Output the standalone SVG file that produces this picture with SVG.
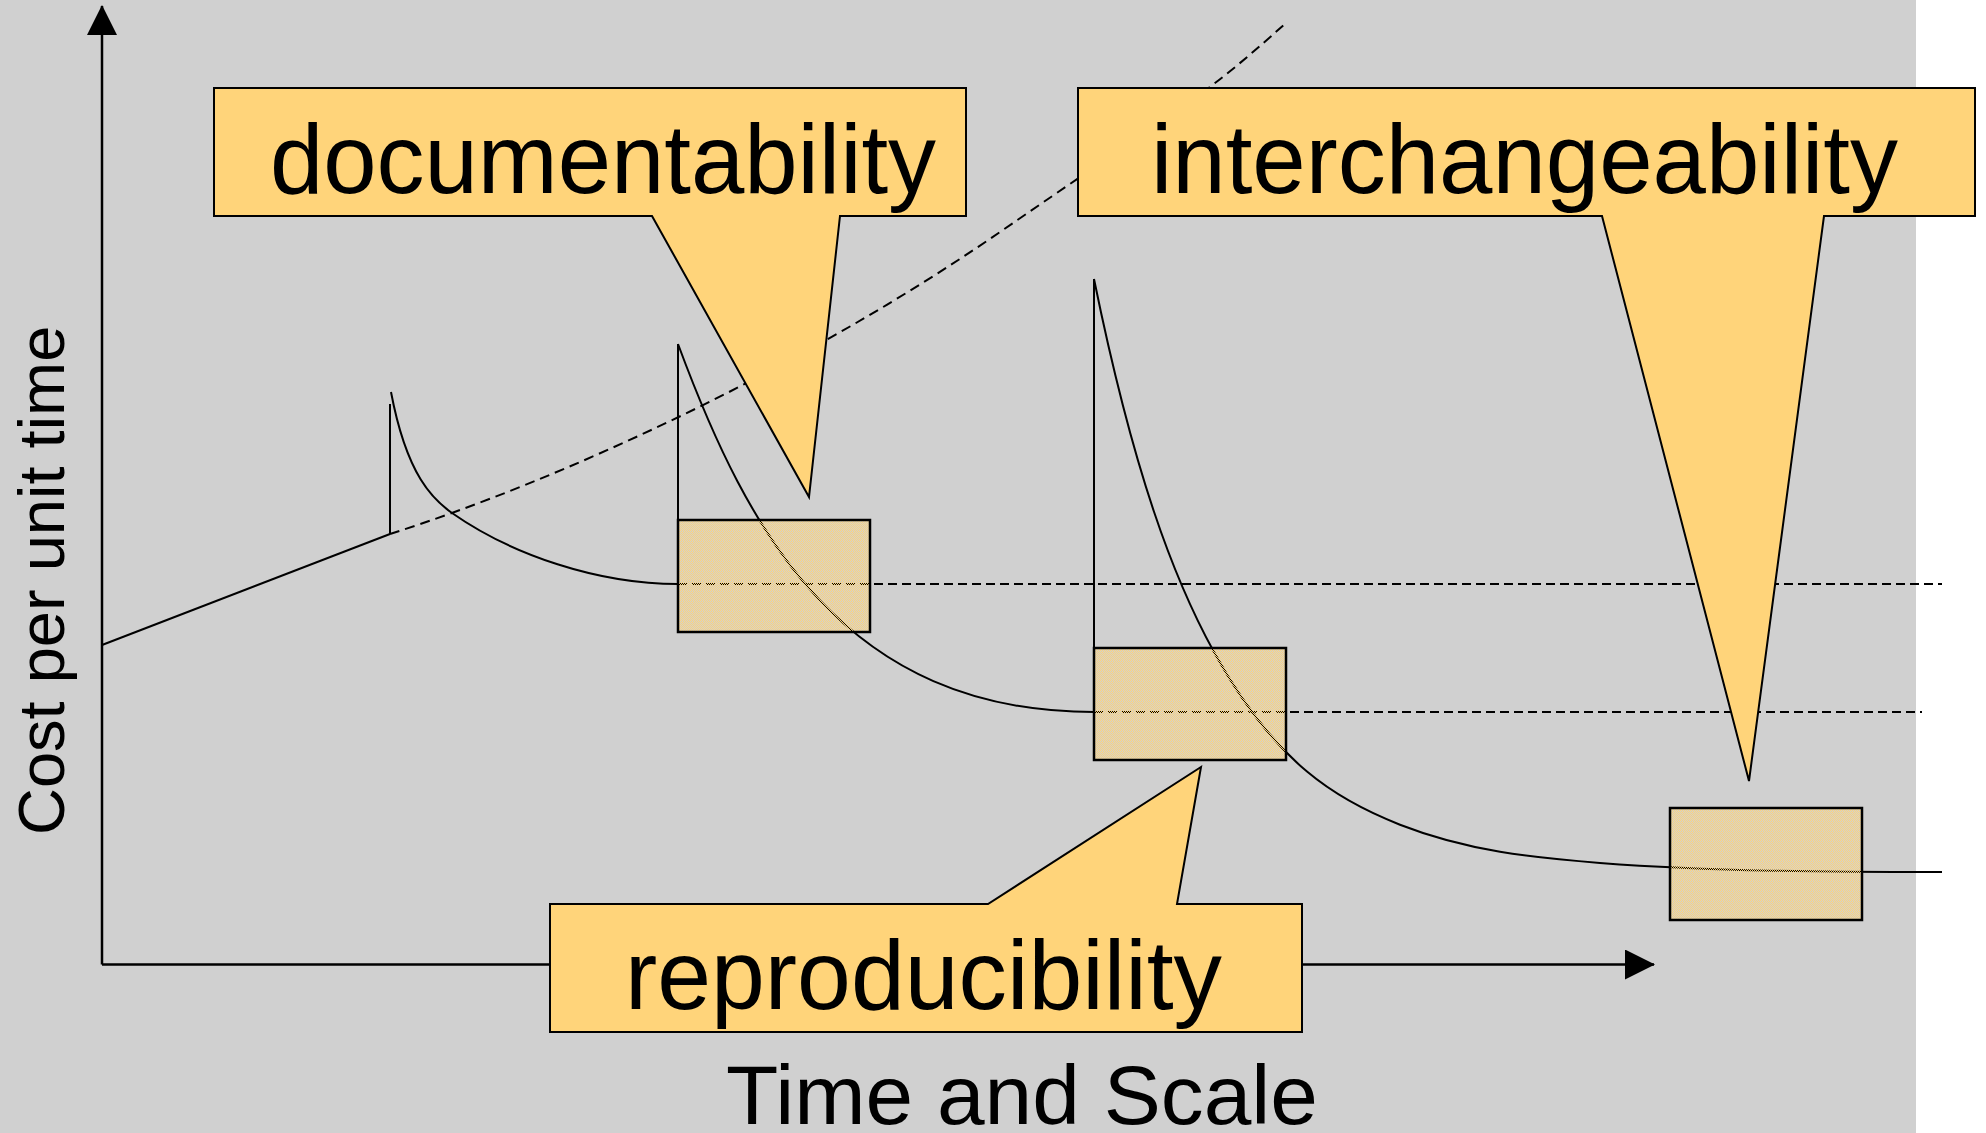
<svg xmlns="http://www.w3.org/2000/svg" width="1986" height="1133" viewBox="0 0 1986 1133">
  <defs>
    <!-- fine yellow checker used for the hatched boxes -->
    <pattern id="checker" width="2" height="2" patternUnits="userSpaceOnUse">
      <rect x="0" y="0" width="1" height="1" fill="#FFD47A"/>
      <rect x="1" y="1" width="1" height="1" fill="#FFD47A"/>
    </pattern>
    <marker id="arrow" viewBox="0 0 30 30" refX="29" refY="15" markerWidth="30" markerHeight="30" markerUnits="userSpaceOnUse" orient="auto">
      <path d="M0,0 L30,15 L0,30 Z" fill="#000"/>
    </marker>
  </defs>
  <style>
    .axis { fill: none; stroke: #000; stroke-width: 2.5; }
    .curve { fill: none; stroke: #000; stroke-width: 2; }
    .dash { fill: none; stroke: #000; stroke-width: 2; stroke-dasharray: 10 6; }
    .level { fill: none; stroke: #000; stroke-width: 2; stroke-dasharray: 9 5; }
    .box { fill: url(#checker); stroke: #000; stroke-width: 2.5; }
    .callout { fill: #FFD47A; stroke: #000; stroke-width: 2; stroke-linejoin: miter; }
    .big { font-family: "Liberation Sans", Arial, sans-serif; font-size: 98px; fill: #000; }
    .axislabel { font-family: "Liberation Sans", Arial, sans-serif; fill: #000; }
  </style>

  <!-- backdrop -->
  <rect x="0" y="0" width="1986" height="1133" fill="#FFFFFF"/>
  <rect x="0" y="0" width="1916" height="1133" fill="#D0D0D0"/>

  <g id="connectors">
    <!-- axes -->
    <line class="axis" x1="102" y1="964.5" x2="102" y2="6" marker-end="url(#arrow)"/>
    <line class="axis" x1="102" y1="964.5" x2="1654" y2="964.5" marker-end="url(#arrow)"/>

    <!-- rising cost before the first step -->
    <line class="curve" x1="102" y1="645" x2="390" y2="534"/>
    <!-- extrapolated cost growth without the steps -->
    <path class="dash" d="M390,534 C560,480 800,370 1000,232 C1200,94 1200,100 1287,22"/>

    <!-- step 1 -->
    <line class="curve" x1="390" y1="404" x2="390" y2="534"/>
    <path class="curve" d="M391,392 C407,476.8 434,500.4 452,513 C512,555 598,584 678,584"/>
    <line class="level" x1="678" y1="584" x2="1942" y2="584"/>

    <!-- step 2 -->
    <line class="curve" x1="678" y1="344" x2="678" y2="520"/>
    <path class="curve" d="M678,344 C748,533 844,712 1094,712"/>
    <line class="level" x1="1094" y1="712" x2="1922" y2="712"/>

    <!-- step 3 -->
    <line class="curve" x1="1094" y1="279" x2="1094" y2="648"/>
    <path class="curve" d="M1094,279 C1134,475 1174,579.4 1214,652.1 C1276,764.8 1338,800.5 1400,824.7 C1466.7,850.8 1533.3,857.9 1600,862.9 C1714,871.4 1828,872 1942,872"/>
  </g>

  <!-- hatched plateau boxes -->
  <g id="plateau-1"><rect class="box" x="678" y="520" width="192" height="112"/></g>
  <g id="plateau-2"><rect class="box" x="1094" y="648" width="192" height="112"/></g>
  <g id="plateau-3"><rect class="box" x="1670" y="808" width="192" height="112"/></g>

  <!-- callouts -->
  <g id="documentability">
    <path class="callout" d="M214,88 L966,88 L966,216 L840,216 L809,497 L652,216 L214,216 Z"/>
    <text class="big" x="270" y="193" textLength="666" lengthAdjust="spacingAndGlyphs">documentability</text>
  </g>
  <g id="interchangeability">
    <path class="callout" d="M1078,88 L1975,88 L1975,216 L1824,216 L1749,781 L1602,216 L1078,216 Z"/>
    <text class="big" x="1151" y="193" textLength="747" lengthAdjust="spacingAndGlyphs">interchangeability</text>
  </g>
  <g id="reproducibility">
    <path class="callout" d="M550,904 L988,904 L1201,767 L1177,904 L1302,904 L1302,1032 L550,1032 Z"/>
    <text class="big" x="625" y="1009" textLength="597" lengthAdjust="spacingAndGlyphs">reproducibility</text>
  </g>

  <!-- axis titles -->
  <g id="x-title">
    <text class="axislabel" x="726" y="1124" font-size="84" textLength="592" lengthAdjust="spacingAndGlyphs">Time and Scale</text>
  </g>
  <g id="y-title">
    <text class="axislabel" font-size="65" transform="translate(64,835) rotate(-90)">Cost per unit time</text>
  </g>
</svg>
